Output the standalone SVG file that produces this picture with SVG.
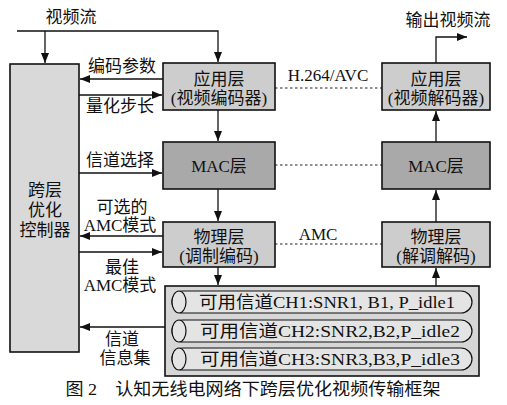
<svg xmlns="http://www.w3.org/2000/svg" width="507" height="405" viewBox="0 0 507 405">
<style>
.t{font-family:"Liberation Serif","Noto Sans CJK SC",serif;font-size:17px;fill:#111;text-anchor:middle}
.box{fill:#cdcdcd;stroke:#111;stroke-width:1.6}
.mac{fill:#a9a9a9;stroke:#111;stroke-width:1.6}
.ln{stroke:#111;stroke-width:1.3;fill:none}
.dot{stroke:#222;stroke-width:1.2;stroke-dasharray:2.5,2.5;fill:none}
.pill{fill:#e4e4e4;stroke:#111;stroke-width:1.2}
</style>
<defs>
<marker id="ah" viewBox="0 0 10 8" refX="10" refY="4" markerWidth="10" markerHeight="8" markerUnits="userSpaceOnUse" orient="auto">
<path d="M0,0 L10,4 L0,8 Z" fill="#111"/>
</marker>
</defs>
<rect width="507" height="405" fill="#fff"/>
<g id="connectors">
<polyline class="ln" points="17,31 218,31 218,62" marker-end="url(#ah)"/>
<line class="ln" x1="45" y1="31" x2="45" y2="63" marker-end="url(#ah)"/>
<line class="ln" x1="163" y1="79" x2="80" y2="79" marker-end="url(#ah)"/>
<line class="ln" x1="79" y1="95" x2="162" y2="95" marker-end="url(#ah)"/>
<line class="ln" x1="218" y1="110" x2="218" y2="141" marker-end="url(#ah)"/>
<line class="ln" x1="79" y1="173" x2="162" y2="173" marker-end="url(#ah)"/>
<line class="ln" x1="218" y1="189" x2="218" y2="221" marker-end="url(#ah)"/>
<line class="ln" x1="163" y1="236" x2="80" y2="236" marker-end="url(#ah)"/>
<line class="ln" x1="79" y1="252" x2="162" y2="252" marker-end="url(#ah)"/>
<line class="ln" x1="218" y1="267" x2="218" y2="285" marker-end="url(#ah)"/>
<line class="ln" x1="165" y1="327" x2="80" y2="327" marker-end="url(#ah)"/>
<line class="ln" x1="436" y1="286" x2="436" y2="268" marker-end="url(#ah)"/>
<line class="ln" x1="436" y1="222" x2="436" y2="190" marker-end="url(#ah)"/>
<line class="ln" x1="436" y1="142" x2="436" y2="111" marker-end="url(#ah)"/>
<polyline class="ln" points="436,63 436,37 467,37" marker-end="url(#ah)"/>
<line class="dot" x1="275" y1="88" x2="382" y2="88"/>
<line class="dot" x1="275" y1="165" x2="382" y2="165"/>
<line class="dot" x1="275" y1="244" x2="382" y2="244"/>
</g>
<g id="labels">
<text class="t" x="71" y="23">视频流</text>
<text class="t" x="448" y="26">输出视频流</text>
<text class="t" x="122" y="72">编码参数</text>
<text class="t" x="120" y="112">量化步长</text>
<text class="t" x="328" y="81">H.264/AVC</text>
<text class="t" x="120" y="166">信道选择</text>
<text class="t" x="122" y="213">可选的</text>
<text class="t" x="120" y="231">AMC模式</text>
<text class="t" x="122" y="273">最佳</text>
<text class="t" x="120" y="291">AMC模式</text>
<text class="t" x="318" y="240">AMC</text>
<text class="t" x="122" y="345">信道</text>
<text class="t" x="125" y="364">信息集</text>
</g>
<g id="controller">
<rect x="10" y="64" width="69" height="288" fill="#d9d9d9" stroke="#111" stroke-width="1.6"/>
<text class="t" x="45" y="196">跨层</text>
<text class="t" x="45" y="216">优化</text>
<text class="t" x="45" y="236">控制器</text>
</g>
<g id="app-encoder">
<rect class="box" x="163" y="63" width="112" height="47"/>
<text class="t" x="219" y="85">应用层</text>
<text class="t" x="219" y="104">(视频编码器)</text>
</g>
<g id="app-decoder">
<rect class="box" x="382" y="63" width="108" height="47"/>
<text class="t" x="436" y="85">应用层</text>
<text class="t" x="436" y="104">(视频解码器)</text>
</g>
<g id="mac-encoder">
<rect class="mac" x="163" y="142" width="112" height="47"/>
<text class="t" x="219" y="172">MAC层</text>
</g>
<g id="mac-decoder">
<rect class="mac" x="382" y="142" width="108" height="47"/>
<text class="t" x="436" y="172">MAC层</text>
</g>
<g id="phy-encoder">
<rect class="box" x="163" y="222" width="112" height="45"/>
<text class="t" x="219" y="243">物理层</text>
<text class="t" x="219" y="262">(调制编码)</text>
</g>
<g id="phy-decoder">
<rect class="box" x="382" y="222" width="108" height="45"/>
<text class="t" x="436" y="243">物理层</text>
<text class="t" x="436" y="262">(解调解码)</text>
</g>
<g id="channels">
<rect x="165" y="286" width="314" height="90" fill="#d6d6d6" stroke="#111" stroke-width="1.6"/>
<rect class="pill" x="172" y="291" width="300" height="22" rx="11"/>
<ellipse class="pill" cx="179" cy="302" rx="7" ry="11" fill="#fff"/>
<text class="t" x="327" y="308" textLength="256" lengthAdjust="spacingAndGlyphs">可用信道CH1:SNR1, B1, P_idle1</text>
<rect class="pill" x="172" y="320" width="300" height="22" rx="11"/>
<ellipse class="pill" cx="179" cy="331" rx="7" ry="11" fill="#fff"/>
<text class="t" x="330" y="337" textLength="260" lengthAdjust="spacingAndGlyphs">可用信道CH2:SNR2,B2,P_idle2</text>
<rect class="pill" x="172" y="348" width="300" height="22" rx="11"/>
<ellipse class="pill" cx="179" cy="359" rx="7" ry="11" fill="#fff"/>
<text class="t" x="330" y="365" textLength="260" lengthAdjust="spacingAndGlyphs">可用信道CH3:SNR3,B3,P_idle3</text>
</g>
<text class="t" x="253" y="395" textLength="375" lengthAdjust="spacingAndGlyphs">图 2　认知无线电网络下跨层优化视频传输框架</text>
</svg>
